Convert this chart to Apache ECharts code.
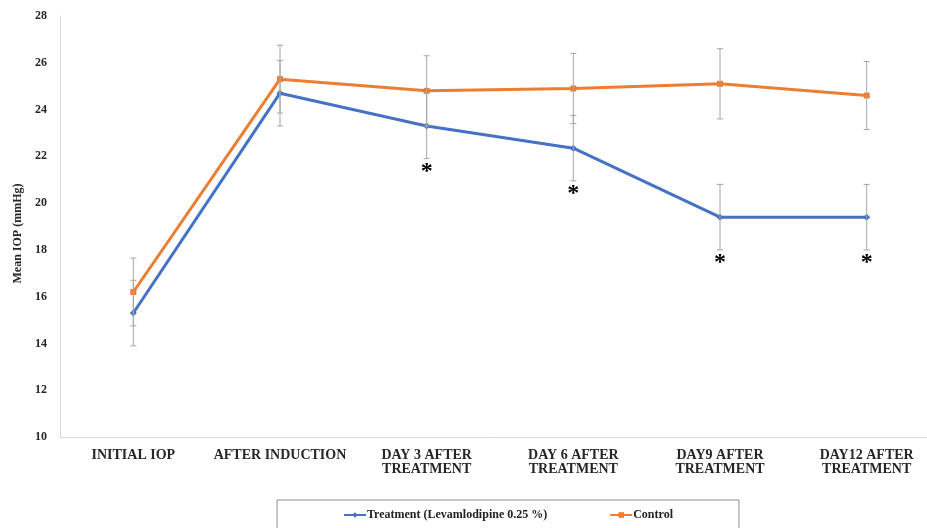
<!DOCTYPE html>
<html>
<head>
<meta charset="utf-8">
<script src="https://cdn.jsdelivr.net/npm/echarts@6/dist/echarts.min.js"></script>
<style>
  html, body { margin: 0; padding: 0; background: #fff; overflow: hidden; }
  #chart { width: 927px; height: 528px; }
</style>
</head>
<body>
<div id="chart"></div>
<script>
// Time points
const categories = ['INITIAL IOP', 'AFTER INDUCTION', 'DAY 3 AFTER\nTREATMENT', 'DAY 6 AFTER\nTREATMENT', 'DAY9 AFTER\nTREATMENT', 'DAY12 AFTER\nTREATMENT'];

// Mean IOP (mmHg) and standard deviations
const treatmentMean = [15.3, 24.7, 23.3, 22.35, 19.4, 19.4];
const treatmentSD   = [1.4, 1.4, 1.4, 1.4, 1.4, 1.4];
const controlMean   = [16.2, 25.3, 24.8, 24.9, 25.1, 24.6];
const controlSD     = [1.45, 1.45, 1.5, 1.5, 1.5, 1.45];

// Significant difference vs control
const significant = [false, false, true, true, true, true];

const yTicks = [10, 12, 14, 16, 18, 20, 22, 24, 26, 28];

const SERIF = "'Liberation Serif', 'DejaVu Serif', serif";
const BLUE = '#4472C4';
const ORANGE = '#ED7D31';

function errorData(mean, sd) {
  return mean.map((m, i) => [i, m - sd[i], m + sd[i], significant[i] ? 1 : 0]);
}

function errorBar(withStar) {
  return function (params, api) {
    const x = api.value(0);
    const lo = api.coord([x, api.value(1)]);
    const hi = api.coord([x, api.value(2)]);
    const cap = 3;
    const style = { stroke: '#a6a6a6', lineWidth: 1 };
    const children = [
      { type: 'line', shape: { x1: hi[0], y1: hi[1], x2: lo[0], y2: lo[1] }, style },
      { type: 'line', shape: { x1: hi[0] - cap, y1: hi[1], x2: hi[0] + cap, y2: hi[1] }, style },
      { type: 'line', shape: { x1: lo[0] - cap, y1: lo[1], x2: lo[0] + cap, y2: lo[1] }, style }
    ];
    if (withStar && api.value(3)) {
      children.push({
        type: 'text',
        style: {
          text: '*', x: lo[0], y: lo[1] + 1,
          fill: '#000', font: 'bold 24px ' + SERIF,
          textAlign: 'center', textVerticalAlign: 'top'
        }
      });
    }
    return { type: 'group', children };
  };
}

const chart = echarts.init(document.getElementById('chart'), null, { renderer: 'canvas' });

chart.setOption({
  animation: false,
  backgroundColor: '#fff',
  grid: { left: 60, top: 16, width: 880, height: 421, containLabel: false, outerBoundsMode: 'none' },
  legend: {
    left: 277,
    top: 500,
    padding: [9, 66, 12, 66],
    itemGap: 62,
    itemWidth: 22,
    itemHeight: 7,
    borderColor: '#8c8c8c',
    borderWidth: 1,
    data: ['Treatment (Levamlodipine 0.25 %)', 'Control'],
    textStyle: { fontFamily: SERIF, fontWeight: 'bold', fontSize: 12, color: '#222', padding: [0, 0, 0, -4] }
  },
  xAxis: {
    type: 'category',
    data: categories,
    boundaryGap: true,
    axisLine: { lineStyle: { color: '#d9d9d9', width: 1 } },
    axisTick: { show: false },
    axisLabel: {
      fontFamily: SERIF, fontWeight: 'bold', fontSize: 14, color: '#262626',
      margin: 11, lineHeight: 14, interval: 0
    },
    splitLine: { show: false }
  },
  yAxis: {
    type: 'value',
    min: yTicks[0],
    max: yTicks[yTicks.length - 1],
    interval: 2,
    name: 'Mean IOP (mmHg)',
    nameLocation: 'middle',
    nameRotate: 90,
    nameGap: 35,
    nameTextStyle: { fontFamily: SERIF, fontWeight: 'bold', fontSize: 12, color: '#262626', padding: [0, 14, 0, 0] },
    axisLine: { show: true, lineStyle: { color: '#d9d9d9', width: 1 } },
    axisTick: { show: false },
    axisLabel: { fontFamily: SERIF, fontWeight: 'bold', fontSize: 12, color: '#262626', margin: 13 },
    splitLine: { show: false }
  },
  series: [
    {
      name: 'Treatment (Levamlodipine 0.25 %)',
      type: 'line',
      data: treatmentMean,
      color: BLUE,
      symbol: 'diamond',
      symbolSize: 7,
      lineStyle: { width: 3, color: BLUE },
      itemStyle: { color: BLUE },
      z: 3
    },
    {
      name: 'Control',
      type: 'line',
      data: controlMean,
      color: ORANGE,
      symbol: 'rect',
      symbolSize: 6,
      lineStyle: { width: 3, color: ORANGE },
      itemStyle: { color: ORANGE },
      z: 3
    },
    {
      type: 'custom',
      renderItem: errorBar(true),
      data: errorData(treatmentMean, treatmentSD),
      encode: { x: 0, y: [1, 2] },
      z: 4,
      silent: true
    },
    {
      type: 'custom',
      renderItem: errorBar(false),
      data: errorData(controlMean, controlSD),
      encode: { x: 0, y: [1, 2] },
      z: 4,
      silent: true
    }
  ]
});
</script>
</body>
</html>
